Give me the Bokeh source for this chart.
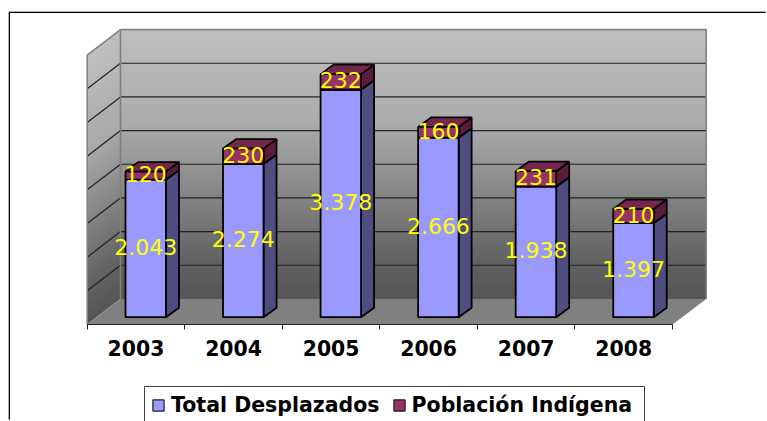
from bokeh.plotting import figure
from bokeh.layouts import column
from bokeh.models import FixedTicker, Legend, LegendItem
from bokeh.embed import file_html
from bokeh.resources import INLINE
from bokeh.core.properties import value

years = ["2003", "2004", "2005", "2006", "2007", "2008"]
total = [2043, 2274, 3378, 2666, 1938, 1397]
indigena = [120, 230, 232, 160, 231, 210]
total_labels = ["2.043", "2.274", "3.378", "2.666", "1.938", "1.397"]
grid_values = [500, 1000, 1500, 2000, 2500, 3000, 3500, 4000]
series_names = ["Total Desplazados", "Población Indígena"]

PAGE_W, PAGE_H = 767, 421
OFF_X, OFF_Y = 10, 13   # the chart's outer border runs along this corner
AXIS_H = 45
PX_X = 97.55      # pixels per category
PX_Y = 0.0674     # pixels per unit
X0, Y0, FRONT = 86.7, 317.0, 324.3

def px(n):
    return n / PX_X

def py(n):
    return n / PX_Y

W = PAGE_W - OFF_X
P_H = int(round(FRONT)) - OFF_Y + AXIS_H
Q_H = PAGE_H - OFF_Y - P_H

x_start = (OFF_X - X0) / PX_X
x_end = (PAGE_W - X0) / PX_X
y_start = (Y0 - FRONT) / PX_Y
y_end = (Y0 - OFF_Y) / PX_Y

p = figure(width=W, height=P_H, output_backend="svg", toolbar_location=None,
           x_range=(x_start, x_end), y_range=(y_start, y_end),
           min_border_left=0, min_border_right=0, min_border_top=0,
           min_border_bottom=AXIS_H)
p.grid.visible = False
p.yaxis.visible = False
p.outline_line_color = None
p.background_fill_color = "white"

# x axis
n = len(years)
ax = p.xaxis[0]
ax.ticker = FixedTicker(ticks=[i + 0.5 for i in range(n)], minor_ticks=list(range(n + 1)))
ax.major_label_overrides = {i + 0.5: y for i, y in enumerate(years)}
ax.bounds = (0, n)
ax.major_tick_in = 0
ax.major_tick_out = 0
ax.minor_tick_in = 0
ax.minor_tick_out = 5
ax.minor_tick_line_color = "#202020"
ax.axis_line_color = "#202020"
ax.axis_line_width = 1
ax.major_label_standoff = 10
ax.major_label_text_font = "DejaVu Sans"
ax.major_label_text_font_style = "bold"
ax.major_label_text_font_size = "20.4px"
ax.major_label_text_color = "black"

# 3D geometry
FX, FY = px(34), py(18.3 + 7.3)   # floor depth, front edge to back wall
BACK_X0, BACK_X1 = px(33.3), n + px(33.7)
BACK_Y0 = py(Y0 - 298.7)          # wall foot at value 0
TOP = 4000 + BACK_Y0
FRONT_Y = y_start


def grey(t):
    stops = [(0.0, 0xbf), (0.35, 0xaa), (0.6, 0x86), (0.85, 0x62), (1.0, 0x55)]
    for (a, ca), (b, cb) in zip(stops, stops[1:]):
        if t <= b:
            v = int(round(ca + (cb - ca) * (t - a) / (b - a)))
            return "#%02x%02x%02x" % (v, v, v)
    return "#555555"

# walls, painted from the top so each band overlaps the previous one
steps = 80
bx, by, bc, lx, ly = [], [], [], [], []
for i in range(steps):
    t = i / steps
    y = TOP - (TOP - BACK_Y0) * t
    bx.append([BACK_X0, BACK_X1, BACK_X1, BACK_X0])
    by.append([y, y, BACK_Y0, BACK_Y0])
    lx.append([0, BACK_X0, BACK_X0, 0])
    ly.append([y - FY, y, BACK_Y0, BACK_Y0 - FY])
    bc.append(grey(t))
p.patches(bx, by, fill_color=bc, line_color=None)
p.patches(lx, ly, fill_color=bc, line_color=None)

# floor
p.patch([0, BACK_X0, BACK_X1, n], [FRONT_Y, BACK_Y0, BACK_Y0, FRONT_Y],
        fill_color="#808080", line_color=None)

# grid lines on both walls
gx_b, gy_b, gx_l, gy_l = [], [], [], []
for g in grid_values[:-1]:
    gx_b.append([BACK_X0, BACK_X1]); gy_b.append([g + BACK_Y0] * 2)
    gx_l.append([0, BACK_X0]); gy_l.append([g + BACK_Y0 - FY, g + BACK_Y0])
p.multi_line(gx_b, gy_b, line_color="#222222", line_width=1.2)
p.multi_line(gx_l, gy_l, line_color="#222222", line_width=1.2)

# wall outline
p.line([BACK_X0, BACK_X1, BACK_X1], [TOP, TOP, BACK_Y0], line_color="#808080", line_width=1.6)
p.line([0, 0, BACK_X0, BACK_X0], [BACK_Y0 - FY, TOP - FY, TOP, BACK_Y0], line_color="#808080", line_width=1.6)
p.line([0, BACK_X0], [BACK_Y0 - FY, BACK_Y0], line_color="#9a9a9a", line_width=1)

# bars
BAR_L = 0.3925
BAR_W = 0.415
DX, DY = px(13), py(9.5)
lefts = [i + BAR_L for i in range(n)]
rights = [l + BAR_W for l in lefts]
tops = [a + b for a, b in zip(total, indigena)]
LW = 1.8
for i in range(n):
    l, r, a, b = lefts[i], rights[i], total[i], tops[i]
    p.patch([r, r + DX, r + DX, r], [0, DY, a + DY, a], fill_color="#4d4d80", line_color="black", line_width=LW)
    p.patch([r, r + DX, r + DX, r], [a, a + DY, b + DY, b], fill_color="#5a1c3c", line_color="black", line_width=LW)
    p.patch([l, r, r + DX, l + DX], [b, b, b + DY, b + DY], fill_color="#75264f", line_color="black", line_width=LW)
p.quad(left=lefts, right=rights, bottom=[0] * n, top=total,
       fill_color="#9999ff", line_color="black", line_width=LW)
p.quad(left=lefts, right=rights, bottom=total, top=tops,
       fill_color="#993366", line_color="black", line_width=LW)

# data labels
centres = [(l + r) / 2 for l, r in zip(lefts, rights)]
p.text(centres, [a / 2 for a in total], text=total_labels, text_color="#ffff00",
       text_font=value("DejaVu Sans"), text_font_size="22px", y_offset=-1.5,
       text_align="center", text_baseline="middle")
p.text(centres, [a + c / 2 for a, c in zip(total, indigena)], text=[str(c) for c in indigena],
       text_color="#ffff00", text_font=value("DejaVu Sans"), text_font_size="22px", y_offset=-1.5,
       text_align="center", text_baseline="middle")

# legend strip: its x and y ranges are page pixels
q_top = OFF_Y + P_H
q = figure(width=W, height=Q_H, output_backend="svg", toolbar_location=None,
           x_range=(OFF_X, PAGE_W), y_range=(PAGE_H, q_top),
           min_border_left=0, min_border_right=0, min_border_top=0, min_border_bottom=0)
q.xaxis.visible = False
q.yaxis.visible = False
q.grid.visible = False
q.outline_line_color = None
q.line([144, 144, 644, 644], [PAGE_H, 386, 386, PAGE_H], line_color="#404040", line_width=1)
# legend keys need a row of data to draw from; this one lies outside the visible range
swatches = [q.quad(left=[-20], right=[-10], top=[0], bottom=[0], fill_color=c, line_color="#202020", line_width=1.2)
            for c in ("#9999ff", "#993366")]
legend = Legend(items=[LegendItem(label=s, renderers=[r]) for s, r in zip(series_names, swatches)],
                orientation="horizontal", location=(141, 4),
                glyph_width=14, glyph_height=14, label_standoff=6, spacing=12,
                padding=0, margin=0,
                label_text_font="DejaVu Sans", label_text_font_style="bold",
                label_text_font_size="20.5px", label_text_color="black",
                border_line_color=None, background_fill_alpha=0)
q.add_layout(legend)

page = column(p, q, spacing=0, margin=(OFF_Y, 0, 0, OFF_X),
              styles={"box-shadow": "-1.3px -1.3px 0 black"})
open("out.html", "w").write(file_html(page, INLINE))
